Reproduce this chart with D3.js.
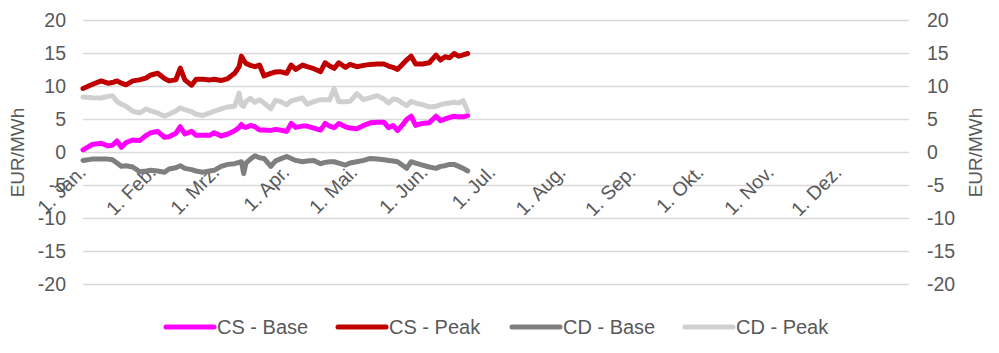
<!DOCTYPE html>
<html>
<head>
<meta charset="utf-8">
<script src="https://cdn.jsdelivr.net/npm/d3@7"></script>
<style>
  body { margin: 0; background: #fff; }
  svg text { font-family: "Liberation Sans", Arial, sans-serif; fill: #595959; }
</style>
</head>
<body>
<svg id="chart" width="999" height="353"></svg>
<script>
// days after 1 Jan
const dayOffsets = [0, 4, 8, 11, 13, 15, 17, 19, 22, 25, 28, 30, 33, 36, 38, 41, 43, 45, 48, 50,
  53, 56, 58, 61, 64, 67, 69, 70, 71, 72, 74, 76, 78, 80, 83, 85, 87, 90, 92, 94,
  97, 99, 102, 105, 107, 109, 111, 113, 116, 118, 121, 124, 127, 130, 133, 135, 137, 139, 141, 143,
  145, 147, 150, 153, 156, 158, 160, 162, 164, 166, 168, 170]

const csBase = [0.4, 1.2, 1.4, 1.0, 1.1, 1.75, 0.8, 1.5, 1.9, 1.8, 2.6, 3.0, 3.2, 2.3, 2.4, 2.9, 3.9, 2.8, 3.2, 2.6,
  2.6, 2.6, 3.0, 2.5, 2.8, 3.3, 3.8, 4.25, 3.9, 3.8, 4.1, 3.9, 3.4, 3.4, 3.35, 3.5, 3.4, 3.2, 4.4, 3.8,
  4.0, 4.0, 3.7, 3.4, 4.4, 4.0, 3.75, 4.4, 3.9, 3.7, 3.6, 4.1, 4.5, 4.6, 4.6, 3.75, 4.1, 3.3, 4.1, 5.0,
  5.5, 4.1, 4.4, 4.5, 5.5, 4.8, 5.1, 5.3, 5.5, 5.4, 5.4, 5.6]

const csPeak = [9.7, 10.3, 10.85, 10.5, 10.6, 10.85, 10.5, 10.25, 10.85, 11.0, 11.3, 11.75, 12.0, 11.2, 10.85, 11.0, 12.8, 11.0, 10.2, 11.1,
  11.1, 11.0, 11.1, 10.9, 11.2, 12.0, 13.0, 14.6, 14.0, 13.5, 13.2, 13.0, 13.25, 11.6, 12.0, 12.2, 12.25, 12.0, 13.25, 12.6,
  13.25, 13.0, 12.7, 12.25, 13.6, 13.1, 12.75, 13.6, 12.9, 13.35, 13.0, 13.2, 13.35, 13.4, 13.4, 13.1, 12.9, 12.6, 13.3, 14.0,
  14.6, 13.4, 13.4, 13.6, 14.75, 14.0, 14.5, 14.35, 15.0, 14.6, 14.8, 15.0]

const cdBase = [-1.2, -1.0, -1.0, -1.0, -1.1, -1.6, -2.1, -2.0, -2.2, -2.9, -2.8, -2.7, -2.8, -3.0, -2.5, -2.3, -2.0, -2.4, -2.6, -2.8,
  -3.0, -2.8, -2.7, -2.1, -1.8, -1.7, -1.5, -1.4, -3.2, -1.6, -1.0, -0.5, -0.8, -0.9, -2.1, -1.3, -1.0, -0.6, -0.9, -1.2,
  -1.4, -1.3, -1.2, -1.7, -1.5, -1.4, -1.4, -1.6, -1.9, -1.6, -1.4, -1.2, -0.9, -1.0, -1.1, -1.2, -1.3, -1.4, -1.9, -2.4,
  -1.4, -1.6, -1.9, -2.2, -2.4, -2.1, -2.0, -1.8, -1.8, -2.1, -2.4, -2.8]

const cdPeak = [8.4, 8.3, 8.25, 8.5, 8.6, 7.75, 7.3, 7.0, 6.25, 6.0, 6.6, 6.3, 6.0, 5.5, 5.8, 6.3, 6.75, 6.5, 6.2, 5.8,
  5.6, 6.0, 6.25, 6.6, 6.9, 7.0, 9.0, 7.2, 7.0, 7.75, 8.2, 7.6, 8.0, 7.5, 6.6, 7.9, 7.75, 7.25, 7.8, 8.0,
  8.25, 7.3, 7.7, 8.0, 8.0, 8.0, 9.7, 7.7, 7.7, 7.75, 8.9, 8.0, 8.3, 8.6, 8.1, 7.5, 8.1, 8.0, 7.5, 7.1,
  7.75, 7.5, 7.25, 6.9, 7.0, 7.25, 7.4, 7.5, 7.6, 7.5, 7.85, 6.3]

const seriesNames = ['CS - Base', 'CS - Peak', 'CD - Base', 'CD - Peak']
const seriesColors = ['#FF00FF', '#C00000', '#7F7F7F', '#D0D0D0']
const monthLabels = ['1. Jan.', '1. Feb.', '1. Mrz.', '1. Apr.', '1. Mai.', '1. Jun.',
  '1. Jul.', '1. Aug.', '1. Sep.', '1. Okt.', '1. Nov.', '1. Dez.']
const yTicks = [20, 15, 10, 5, 0, -5, -10, -15, -20]

const svg = d3.select('#chart')
const plotLeft = 83, plotRight = 909, plotTop = 20.5, plotBottom = 284.5
const start = new Date(2021, 0, 1)

const x = d3.scaleTime()
  .domain([start, new Date(2022, 0, 1)])
  .range([plotLeft, plotRight])
const y = d3.scaleLinear()
  .domain([-20, 20])
  .range([plotBottom, plotTop])

// gridlines
svg.append('g')
  .selectAll('line')
  .data(yTicks)
  .enter().append('line')
  .attr('x1', plotLeft).attr('x2', plotRight)
  .attr('y1', d => y(d)).attr('y2', d => y(d))
  .attr('stroke', '#D9D9D9')
  .attr('stroke-width', 1.5)

// left + right tick labels (plain hyphen, like Excel)
const fmt = d => String(d)
svg.append('g')
  .attr('transform', 'translate(66,0)')
  .call(d3.axisLeft(y).tickValues(yTicks).tickFormat(fmt).tickSize(0).tickPadding(0))
svg.append('g')
  .attr('transform', 'translate(927,0)')
  .call(d3.axisRight(y).tickValues(yTicks).tickFormat(fmt).tickSize(0).tickPadding(0))
svg.selectAll('.domain').remove()
svg.selectAll('.tick text')
  .attr('font-size', 19.5)
  .attr('font-family', '"Liberation Sans", Arial, sans-serif')
  .attr('fill', '#595959')

// axis titles
svg.append('text')
  .attr('transform', 'translate(24,' + y(0) + ') rotate(-90)')
  .attr('text-anchor', 'middle')
  .attr('font-size', 19)
  .text('EUR/MWh')
svg.append('text')
  .attr('transform', 'translate(982,' + y(0) + ') rotate(-90)')
  .attr('text-anchor', 'middle')
  .attr('font-size', 19)
  .text('EUR/MWh')

// month labels, rotated
const months = d3.timeMonth.range(start, new Date(2022, 0, 1))
svg.append('g')
  .selectAll('text')
  .data(months)
  .enter().append('text')
  .attr('transform', (d, i) => 'translate(' + (x(d) + 4) + ',' + (y(0) + 21) + ') rotate(-45)')
  .attr('text-anchor', 'end')
  .attr('font-size', 19.5)
  .text((d, i) => monthLabels[i])

// lines
const allSeries = [csBase, csPeak, cdBase, cdPeak]
const line = d3.line()
  .x(d => x(d3.timeDay.offset(start, d[0])))
  .y(d => y(d[1]))

svg.append('g')
  .selectAll('path')
  .data(allSeries)
  .enter().append('path')
  .attr('d', vals => line(vals.map((v, i) => [dayOffsets[i], v])))
  .attr('fill', 'none')
  .attr('stroke', (d, i) => seriesColors[i])
  .attr('stroke-width', 5)
  .attr('stroke-linejoin', 'round')
  .attr('stroke-linecap', 'round')

// legend
const legendX = [166, 338, 512, 685]
const lg = svg.append('g')
  .selectAll('g')
  .data(seriesNames)
  .enter().append('g')
  .attr('transform', (d, i) => 'translate(' + legendX[i] + ',327)')
lg.append('line')
  .attr('x1', 0).attr('x2', 48)
  .attr('stroke', (d, i) => seriesColors[i])
  .attr('stroke-width', 5)
  .attr('stroke-linecap', 'round')
lg.append('text')
  .attr('x', 51)
  .attr('dy', '0.36em')
  .attr('font-size', 20)
  .text(d => d)
</script>
</body>
</html>
